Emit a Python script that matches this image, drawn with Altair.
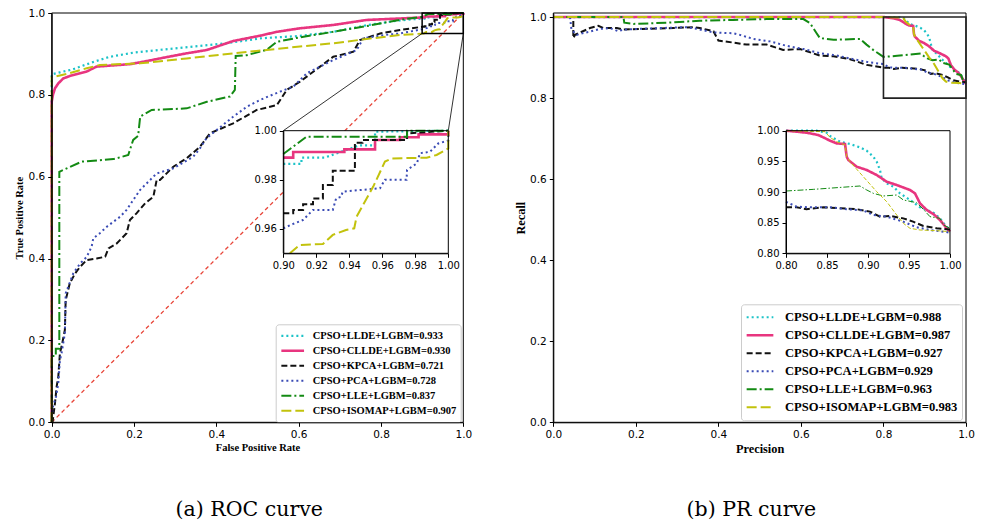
import altair as alt
import pandas as pd

# ---------------- data ----------------
MODELS = ["CPSO+LLDE+LGBM", "CPSO+CLLDE+LGBM", "CPSO+KPCA+LGBM",
          "CPSO+PCA+LGBM", "CPSO+LLE+LGBM", "CPSO+ISOMAP+LGBM"]
ROC_AUC = ["0.933", "0.930", "0.721", "0.728", "0.837", "0.907"]
PR_AUC = ["0.988", "0.987", "0.927", "0.929", "0.963", "0.983"]
CAPTIONS = ["(a) ROC curve", "(b) PR curve"]

MAIN_TICKS = [0.0, 0.2, 0.4, 0.6, 0.8, 1.0]
ROC_ZOOM_X_TICKS = [0.90, 0.92, 0.94, 0.96, 0.98, 1.00]
ROC_ZOOM_Y_TICKS = [0.96, 0.98, 1.00]
PR_ZOOM_TICKS = [0.80, 0.85, 0.90, 0.95, 1.00]

# ROC curves (false positive rate, true positive rate)
ROC_LLDE_FPR = [0.0, 0.0, 0.02, 0.05, 0.10, 0.141, 0.198, 0.263, 0.344, 0.425, 0.506, 0.603, 0.684, 0.765, 0.846,
                0.900, 0.911, 0.911, 0.925, 0.946, 0.9556, 0.9556, 1.0]
ROC_LLDE_TPR = [0.0, 0.850, 0.855, 0.862, 0.880, 0.893, 0.903, 0.910, 0.918, 0.926, 0.938, 0.944, 0.954, 0.970, 0.982,
                0.9865, 0.9865, 0.989, 0.989, 0.994, 0.994, 0.9996, 1.0]

ROC_CLLDE_FPR = [0.0, 0.0, 0.003, 0.008, 0.016, 0.028, 0.044, 0.069, 0.085, 0.109, 0.190, 0.223, 0.263, 0.328, 0.377,
                 0.441, 0.506, 0.547, 0.603, 0.684, 0.765, 0.846, 0.900, 0.906, 0.906, 0.937, 0.937, 0.9556, 0.9556,
                 0.9707, 0.9707, 0.982, 0.982, 1.0, 1.0]
ROC_CLLDE_TPR = [0.0, 0.783, 0.800, 0.816, 0.828, 0.840, 0.846, 0.853, 0.857, 0.869, 0.875, 0.881, 0.889, 0.9015, 0.9096,
                 0.9316, 0.9445, 0.954, 0.9626, 0.9707, 0.983, 0.9866, 0.989, 0.989, 0.9913, 0.9913, 0.9924, 0.9924,
                 0.9962, 0.9962, 0.9973, 0.9973, 0.9985, 0.9985, 1.0]

ROC_KPCA_FPR = [0.0, 0.002, 0.008, 0.012, 0.016, 0.020, 0.024, 0.032, 0.034, 0.038, 0.044, 0.057, 0.069, 0.085, 0.109,
                0.130, 0.138, 0.158, 0.182, 0.190, 0.2065, 0.227, 0.247, 0.255, 0.263, 0.2955, 0.328, 0.360, 0.3846,
                0.441, 0.498, 0.547, 0.571, 0.603, 0.652, 0.684, 0.733, 0.749, 0.798, 0.846, 0.900, 0.906, 0.906,
                0.912, 0.912, 0.918, 0.918, 0.924, 0.924, 0.930, 0.930, 0.9434, 0.9434, 0.948, 0.948, 0.975, 0.975, 1.0]
ROC_KPCA_TPR = [0.0, 0.0, 0.047, 0.087, 0.111, 0.169, 0.185, 0.2255, 0.299, 0.315, 0.340, 0.364, 0.380, 0.3965, 0.400,
                0.4046, 0.425, 0.437, 0.462, 0.494, 0.511, 0.535, 0.551, 0.592, 0.592, 0.6245, 0.645, 0.673, 0.706,
                0.7305, 0.763, 0.775, 0.812, 0.832, 0.869, 0.893, 0.9055, 0.934, 0.950, 0.9585, 0.9663, 0.9663, 0.9677,
                0.9677, 0.970, 0.970, 0.9724, 0.9724, 0.9779, 0.9779, 0.9837, 0.9837, 0.9951, 0.9951, 0.9962, 0.9962,
                0.9989, 1.0]

ROC_PCA_FPR = [0.0, 0.002, 0.0105, 0.016, 0.020, 0.024, 0.032, 0.034, 0.040, 0.0525, 0.069, 0.085, 0.097, 0.101, 0.117,
               0.134, 0.166, 0.182, 0.198, 0.2145, 0.255, 0.2955, 0.344, 0.360, 0.376, 0.441, 0.474, 0.506, 0.555,
               0.587, 0.620, 0.652, 0.684, 0.741, 0.757, 0.806, 0.846, 0.900, 0.906, 0.912, 0.918, 0.930, 0.932,
               0.935, 0.936, 0.9465, 0.9586, 0.9616, 0.9747, 0.975, 0.981, 0.9828, 0.9889, 0.9939, 1.0, 1.0]
ROC_PCA_TPR = [0.0, 0.035, 0.0626, 0.095, 0.152, 0.169, 0.2175, 0.315, 0.331, 0.364, 0.388, 0.404, 0.429, 0.4495, 0.462,
               0.478, 0.502, 0.519, 0.543, 0.5675, 0.608, 0.6205, 0.649, 0.669, 0.694, 0.7466, 0.771, 0.7875, 0.808,
               0.820, 0.853, 0.869, 0.885, 0.9096, 0.938, 0.946, 0.950, 0.9602, 0.962, 0.9636, 0.9677, 0.9677, 0.9724,
               0.973, 0.9751, 0.9758, 0.9765, 0.980, 0.980, 0.984, 0.9867, 0.9908, 0.9914, 0.9948, 0.996, 1.0]

ROC_LLE_FPR = [0.0, 0.0, 0.010, 0.010, 0.0185, 0.0185, 0.073, 0.150, 0.186, 0.198, 0.210, 0.215, 0.243, 0.328, 0.377,
               0.433, 0.445, 0.447, 0.474, 0.522, 0.547, 0.603, 0.684, 0.765, 0.806, 0.850, 0.900, 0.914, 0.975, 0.975, 1.0]
ROC_LLE_TPR = [0.0, 0.162, 0.162, 0.180, 0.180, 0.612, 0.637, 0.643, 0.653, 0.690, 0.700, 0.747, 0.763, 0.767, 0.783,
               0.796, 0.812, 0.895, 0.897, 0.910, 0.9296, 0.9406, 0.954, 0.968, 0.976, 0.984, 0.9905, 0.9975, 0.9975,
               1.0, 1.0]

ROC_ISOMAP_FPR = [0.0, 0.0, 0.036, 0.085, 0.117, 0.215, 0.328, 0.441, 0.603, 0.684, 0.765, 0.846, 0.904, 0.910, 0.924,
                  0.930, 0.938, 0.943, 0.9444, 0.9545, 0.9616, 0.9657, 0.9869, 0.9929, 1.0, 1.0]
ROC_ISOMAP_TPR = [0.0, 0.843, 0.851, 0.865, 0.873, 0.877, 0.889, 0.9015, 0.918, 0.926, 0.9365, 0.9462, 0.950, 0.9534,
                  0.9538, 0.9575, 0.9595, 0.9602, 0.9649, 0.9772, 0.9874, 0.9887, 0.989, 0.9901, 0.9928, 1.0]

# PR curves (precision on x, recall on y)
PR_LLDE_P = [0.0, 0.800, 0.8374, 0.8496, 0.8537, 0.8659, 0.8780, 0.8902, 0.8984, 0.9065, 0.9106, 0.9146, 0.9167,
             0.9228, 0.9309, 0.9390, 0.9512, 0.9634, 0.9715, 0.9797, 0.9878, 0.9939, 1.0]
PR_LLDE_R = [1.0, 1.0, 1.0, 0.9967, 0.9913, 0.9821, 0.9783, 0.9728, 0.9674, 0.9576, 0.9495, 0.9359, 0.9223, 0.9141,
             0.9087, 0.8978, 0.8870, 0.8750, 0.8707, 0.8663, 0.8571, 0.8462, 0.8380]

PR_CLLDE_P = [0.0, 0.800, 0.8130, 0.8252, 0.8333, 0.8394, 0.8455, 0.8537, 0.8618, 0.8720, 0.8740, 0.8760, 0.8862,
              0.8984, 0.9106, 0.9228, 0.9350, 0.9512, 0.9573, 0.9634, 0.9715, 0.9797, 0.9878, 0.9959, 1.0]
PR_CLLDE_R = [1.0, 1.0, 0.9984, 0.9967, 0.9946, 0.9929, 0.9891, 0.9837, 0.9793, 0.9783, 0.9576, 0.9522, 0.9413, 0.9359,
              0.9277, 0.9168, 0.9114, 0.9033, 0.8978, 0.8815, 0.8707, 0.8641, 0.8543, 0.8408, 0.8353]

PR_KPCA_P = [0.0485, 0.0485, 0.0526, 0.089, 0.109, 0.121, 0.154, 0.170, 0.210, 0.291, 0.339, 0.355, 0.388, 0.400,
             0.436, 0.468, 0.517, 0.557, 0.598, 0.646, 0.679, 0.719, 0.759, 0.800, 0.813, 0.825, 0.8455, 0.866,
             0.886, 0.9024, 0.9146, 0.927, 0.943, 0.955, 0.9675, 0.9837, 1.0]
PR_KPCA_R = [0.990, 0.948, 0.956, 0.973, 0.9785, 0.973, 0.973, 0.969, 0.9706, 0.973, 0.975, 0.973, 0.965, 0.942,
             0.937, 0.932, 0.932, 0.919, 0.921, 0.905, 0.903, 0.896, 0.882, 0.875, 0.875, 0.872, 0.875, 0.8734,
             0.872, 0.868, 0.8598, 0.861, 0.857, 0.8516, 0.8446, 0.8408, 0.839]

PR_PCA_P = [0.0405, 0.044, 0.0567, 0.073, 0.089, 0.113, 0.137, 0.1575, 0.170, 0.210, 0.323, 0.347, 0.388, 0.436,
            0.452, 0.485, 0.525, 0.565, 0.606, 0.646, 0.687, 0.727, 0.767, 0.800, 0.813, 0.8293, 0.8537, 0.874,
            0.894, 0.9065, 0.9228, 0.943, 0.9593, 0.9756, 0.9919, 1.0]
PR_PCA_R = [1.0, 0.969, 0.956, 0.9605, 0.964, 0.9706, 0.973, 0.965, 0.969, 0.971, 0.975, 0.971, 0.962, 0.960,
            0.956, 0.946, 0.940, 0.929, 0.921, 0.911, 0.905, 0.896, 0.888, 0.884, 0.876, 0.875, 0.875, 0.872,
            0.870, 0.8625, 0.8598, 0.8516, 0.8424, 0.838, 0.8353, 0.8337]

PR_LLE_P = [0.0, 0.170, 0.172, 0.194, 0.275, 0.355, 0.436, 0.517, 0.606, 0.622, 0.638, 0.646, 0.679, 0.743, 0.759,
            0.775, 0.800, 0.8333, 0.8902, 0.8984, 0.9065, 0.9187, 0.9350, 0.9431, 0.9593, 0.9675, 0.9756, 0.9878,
            0.9919, 1.0]
PR_LLE_R = [1.0, 1.0, 0.986, 0.983, 0.986, 0.991, 0.993, 0.995, 0.995, 0.985, 0.960, 0.948, 0.944, 0.946, 0.932,
            0.919, 0.9016, 0.9043, 0.9098, 0.9033, 0.8978, 0.8935, 0.8951, 0.8870, 0.8826, 0.8717, 0.8598, 0.8571,
            0.8462, 0.8408]

PR_ISOMAP_P = [0.0, 0.800, 0.8476, 0.8537, 0.8618, 0.8720, 0.8740, 0.8780, 0.8943, 0.9106, 0.9228, 0.9350, 0.9431,
               0.9512, 0.9634, 0.9837, 1.0]
PR_ISOMAP_R = [1.0, 1.0, 0.9984, 0.9891, 0.9821, 0.9766, 0.9576, 0.9495, 0.9250, 0.9005, 0.8842, 0.8625, 0.8489,
               0.8408, 0.8380, 0.8370, 0.8353]

ROC_CURVES = [(ROC_LLDE_FPR, ROC_LLDE_TPR), (ROC_CLLDE_FPR, ROC_CLLDE_TPR), (ROC_KPCA_FPR, ROC_KPCA_TPR),
              (ROC_PCA_FPR, ROC_PCA_TPR), (ROC_LLE_FPR, ROC_LLE_TPR), (ROC_ISOMAP_FPR, ROC_ISOMAP_TPR)]
PR_CURVES = [(PR_LLDE_P, PR_LLDE_R), (PR_CLLDE_P, PR_CLLDE_R), (PR_KPCA_P, PR_KPCA_R),
             (PR_PCA_P, PR_PCA_R), (PR_LLE_P, PR_LLE_R), (PR_ISOMAP_P, PR_ISOMAP_R)]

# ---------------- style ----------------
COLORS = ["#1cc3c8", "#e8357f", "#111111", "#3a4bb5", "#138a13", "#c2c20c"]
MAIN_WIDTHS = [2.2, 2.6, 2.0, 2.0, 2.0, 2.0]
MAIN_DASHES = [[2, 3], [1, 0], [6, 3], [2, 3], [10, 3, 2, 3], [10, 4]]
PR_INSET_WIDTHS = [2.2, 2.6, 2.0, 2.0, 1.0, 1.0]
PR_INSET_DASHES = [[2, 3], [1, 0], [6, 3], [2, 3], [6, 2, 1.5, 2], [4, 2]]
DIAG_COLOR = "#e8463a"

# ---------------- geometry (pixels inside the view) ----------------
W, H = 973, 517
TOP, BOTTOM = 5.0, 414.3
ROC_LEFT, ROC_RIGHT = 43.7, 455.3
PR_LEFT, PR_RIGHT = 545.3, 958.0
INSET_TOP, INSET_BOTTOM = 122.7, 245.3
ROC_INSET_LEFT, ROC_INSET_RIGHT = 275.3, 440.3
PR_INSET_LEFT, PR_INSET_RIGHT = 778.0, 942.0
CAPTION_Y = 502
CAPTION_X = 0.48


def curves_df(curves, labels, xmin=None):
    rows = []
    for label, (xs, ys) in zip(labels, curves):
        for i, (x, y) in enumerate(zip(xs, ys)):
            if xmin is None or x >= xmin:
                rows.append({"label": label, "i": i, "x": x, "y": y})
    return pd.DataFrame(rows)


def lin(domain, rng):
    return alt.Scale(domain=domain, range=rng, nice=False, zero=False)


def make_axis(values, fmt, orient, offset, title=None, title_size=10.5, title_pad=3.0, label_size=10.5):
    kw = dict(values=values, format=fmt, orient=orient, offset=offset, grid=False, tickSize=4,
              tickColor="black", domainColor="black", labelColor="black", labelFont="DejaVu Sans",
              labelFontSize=label_size, labelPadding=3, labelFlush=False, labelOverlap=False,
              domainWidth=1, tickWidth=1, zindex=1)
    if title:
        kw.update(title=title, titleFont="Liberation Serif", titleFontWeight="bold",
                  titleFontSize=title_size, titlePadding=title_pad, titleColor="black")
    else:
        kw["title"] = None
    return alt.Axis(**kw)


def make_legend(x, y, font_size, sym_size, label_offset, row_h):
    return alt.Legend(title=None, orient="none", legendX=x, legendY=y, direction="vertical",
                      symbolType="stroke", symbolSize=sym_size, labelFont="Liberation Serif",
                      labelFontWeight="bold", labelFontSize=font_size, labelColor="black", labelLimit=500,
                      labelOffset=label_offset, clipHeight=row_h, rowPadding=0, padding=4, fillColor="white",
                      strokeColor="#cccccc", cornerRadius=3, symbolOpacity=1)


class Panel:
    def __init__(self, xs, ys, xaxis, yaxis):
        self.xs, self.ys, self.xaxis, self.yaxis = xs, ys, xaxis, yaxis

    def X(self, field):
        return alt.X(field, scale=self.xs, axis=self.xaxis)

    def Y(self, field):
        return alt.Y(field, scale=self.ys, axis=self.yaxis)

    def lines(self, df, labels, widths, dashes, legend):
        return alt.Chart(df).mark_line().encode(
            x=self.X("x:Q"), y=self.Y("y:Q"),
            color=alt.Color("label:N", scale=alt.Scale(domain=labels, range=COLORS), legend=legend),
            strokeDash=alt.StrokeDash("label:N", scale=alt.Scale(domain=labels, range=dashes), legend=legend),
            strokeWidth=alt.StrokeWidth("label:N", scale=alt.Scale(type="ordinal", domain=labels, range=widths),
                                        legend=legend),
            order="i:Q",
        )

    def box(self, x0, x1, y0, y1, **mark):
        d = pd.DataFrame({"x0": [x0], "x1": [x1], "y0": [y0], "y1": [y1]})
        return alt.Chart(d).mark_rect(**mark).encode(x=self.X("x0:Q"), x2="x1", y=self.Y("y0:Q"), y2="y1")

    def segments(self, xs, ys, x2s, y2s, **mark):
        d = pd.DataFrame({"x": xs, "y": ys, "x2": x2s, "y2": y2s})
        return alt.Chart(d).mark_rule(**mark).encode(x=self.X("x:Q"), y=self.Y("y:Q"), x2="x2", y2="y2")

    def caption(self, text):
        d = pd.DataFrame({"x": [CAPTION_X], "t": [text]})
        return alt.Chart(d).mark_text(font="DejaVu Serif", fontSize=20.5, color="black",
                                      align="center", baseline="middle").encode(
            x=self.X("x:Q"), y=alt.value(CAPTION_Y), text="t:N")


roc_labels = [f"{m}={a}" for m, a in zip(MODELS, ROC_AUC)]
pr_labels = [f"{m}={a}" for m, a in zip(MODELS, PR_AUC)]

# ---------------- ROC panel ----------------
roc = Panel(lin([0, 1], [ROC_LEFT, ROC_RIGHT]), lin([0, 1], [BOTTOM, TOP]),
            make_axis(MAIN_TICKS, ".1f", "bottom", BOTTOM - H, "False Positive Rate", 10.5, 3),
            make_axis(MAIN_TICKS, ".1f", "left", -ROC_LEFT, "True Positive Rate", 10.5, 4))
roc_in = Panel(lin([0.9, 1.0], [ROC_INSET_LEFT, ROC_INSET_RIGHT]), lin([0.95, 1.0], [INSET_BOTTOM, INSET_TOP]),
               make_axis(ROC_ZOOM_X_TICKS, ".2f", "bottom", INSET_BOTTOM - H, label_size=10),
               make_axis(ROC_ZOOM_Y_TICKS, ".2f", "left", -ROC_INSET_LEFT, label_size=10))


def to_roc_main(px, py):
    return ((px - ROC_LEFT) / (ROC_RIGHT - ROC_LEFT), (BOTTOM - py) / (BOTTOM - TOP))


c1 = to_roc_main(ROC_INSET_LEFT, INSET_TOP)
c2 = to_roc_main(ROC_INSET_RIGHT, INSET_TOP)

roc_panel = alt.layer(
    roc.segments([0.0], [0.0], [1.0], [1.0], color=DIAG_COLOR, strokeWidth=1.3, strokeDash=[4, 3]),
    roc.lines(curves_df(ROC_CURVES, roc_labels), roc_labels, MAIN_WIDTHS, MAIN_DASHES,
              make_legend(267.7, 316.3, 10.5, 515, 7, 15)),
    roc.box(0, 1, 0, 1, fillOpacity=0, stroke="black", strokeWidth=1),
    roc.box(0.9, 1.0, 0.95, 1.0, fillOpacity=0, stroke="black", strokeWidth=1.5),
    roc.segments([c1[0], c2[0]], [c1[1], c2[1]], [0.9, 1.0], [0.95, 0.95], color="black", strokeWidth=0.8),
    roc.caption(CAPTIONS[0]),
)

roc_inset = alt.layer(
    roc_in.box(0.9, 1.0, 0.95, 1.0, fill="white"),
    roc_in.lines(curves_df(ROC_CURVES, roc_labels, xmin=0.9), roc_labels, MAIN_WIDTHS, MAIN_DASHES, None),
    roc_in.box(0.9, 1.0, 0.95, 1.0, fillOpacity=0, stroke="black", strokeWidth=1),
)

# ---------------- PR panel ----------------
pr = Panel(lin([0, 1], [PR_LEFT, PR_RIGHT]), lin([0, 1.01], [BOTTOM, TOP]),
           make_axis(MAIN_TICKS, ".1f", "bottom", BOTTOM - H, "Precision", 12.3, 2.5),
           make_axis(MAIN_TICKS, ".1f", "left", -PR_LEFT, "Recall", 12.3, 2.5))
pr_in = Panel(lin([0.8, 1.0], [PR_INSET_LEFT, PR_INSET_RIGHT]), lin([0.8, 1.0], [INSET_BOTTOM, INSET_TOP]),
              make_axis(PR_ZOOM_TICKS, ".2f", "bottom", INSET_BOTTOM - H, label_size=10),
              make_axis(PR_ZOOM_TICKS, ".2f", "left", -PR_INSET_LEFT, label_size=10))

pr_panel = alt.layer(
    pr.lines(curves_df(PR_CURVES, pr_labels), pr_labels, MAIN_WIDTHS, MAIN_DASHES,
             make_legend(733.0, 296.3, 12.6, 713, 10, 17.9)),
    pr.box(0, 1, 0, 1.01, fillOpacity=0, stroke="black", strokeWidth=1),
    pr.box(0.8, 1.0, 0.8, 1.0, fillOpacity=0, stroke="#222222", strokeWidth=1.6),
    pr.caption(CAPTIONS[1]),
)

pr_inset = alt.layer(
    pr_in.box(0.8, 1.0, 0.8, 1.0, fill="white"),
    pr_in.lines(curves_df(PR_CURVES, pr_labels, xmin=0.8), pr_labels, PR_INSET_WIDTHS, PR_INSET_DASHES, None),
    pr_in.box(0.8, 1.0, 0.8, 1.0, fillOpacity=0, stroke="black", strokeWidth=1),
)

chart = alt.layer(roc_panel, roc_inset, pr_panel, pr_inset).resolve_scale(
    x="independent", y="independent", color="independent",
    strokeDash="independent", strokeWidth="independent",
).resolve_axis(x="independent", y="independent").resolve_legend(
    color="independent", strokeDash="independent", strokeWidth="independent",
).properties(
    width=W, height=H, autosize=alt.AutoSizeParams(type="none"), padding=0,
).configure_view(stroke="transparent")

chart.save("out.html", embed_options={"renderer": "svg", "actions": False})
